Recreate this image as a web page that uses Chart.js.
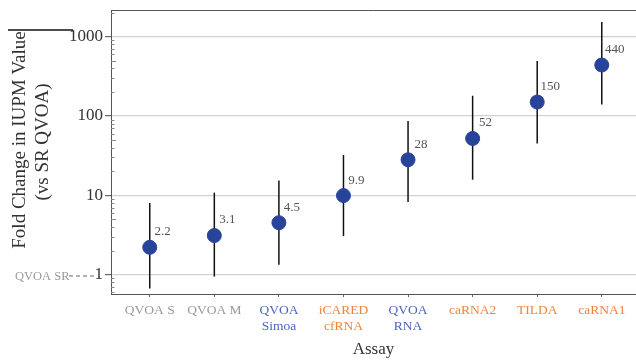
<!DOCTYPE html>
<html>
<head>
<meta charset="utf-8">
<script src="https://cdn.jsdelivr.net/npm/chart.js@4"></script>
<style>
  html, body { margin: 0; padding: 0; background: #fff; overflow: hidden; }
  canvas { display: block; }
</style>
</head>
<body>
<canvas id="chart" width="636" height="360"></canvas>
<script>
// assays, left to right
const assays = [['QVOA S'], ['QVOA M'], ['QVOA', 'Simoa'], ['iCARED', 'cfRNA'], ['QVOA', 'RNA'], ['caRNA2'], ['TILDA'], ['caRNA1']];
const assayGroup = ['grey', 'grey', 'blue', 'orange', 'blue', 'orange', 'orange', 'orange'];
// fold change vs SR QVOA, with lower / upper interval
const foldChange = [2.2, 3.1, 4.5, 9.9, 28, 52, 150, 440];
const lower = [0.665, 0.94, 1.33, 3.05, 8.2, 15.7, 45, 140];
const upper = [8.0, 10.8, 15.4, 32.2, 86.7, 180, 493, 1535];
const yTicks = [1, 10, 100, 1000];

const groupColors = { grey: '#9a9a9a', blue: '#4a66bd', orange: '#f0843c' };
const serif = "'Liberation Serif', 'DejaVu Serif', serif";

const errorBars = {
    id: 'errorBars',
    beforeDatasetsDraw(chart) {
        const { ctx, scales: { x, y } } = chart;
        ctx.save();
        ctx.strokeStyle = '#111';
        ctx.lineWidth = 1.5;
        foldChange.forEach((v, i) => {
            const px = x.getPixelForValue(i);
            ctx.beginPath();
            ctx.moveTo(px, y.getPixelForValue(lower[i]));
            ctx.lineTo(px, y.getPixelForValue(upper[i]));
            ctx.stroke();
        });
        ctx.restore();
    }
};

const valueLabels = {
    id: 'valueLabels',
    afterDatasetsDraw(chart) {
        const { ctx, scales: { x, y } } = chart;
        ctx.save();
        ctx.font = '13px ' + serif;
        ctx.fillStyle = '#555';
        ctx.textAlign = 'center';
        ctx.textBaseline = 'middle';
        foldChange.forEach((v, i) => {
            ctx.fillText(String(v), x.getPixelForValue(i) + 13, y.getPixelForValue(v) - 15.5);
        });
        ctx.restore();
    }
};

const extras = {
    id: 'extras',
    afterDraw(chart) {
        const { ctx, chartArea: a, scales: { y } } = chart;
        ctx.save();
        // top frame line
        ctx.strokeStyle = '#555';
        ctx.lineWidth = 1;
        ctx.beginPath();
        ctx.moveTo(a.left, a.top + 0.5);
        ctx.lineTo(a.right, a.top + 0.5);
        ctx.stroke();

        // minor ticks inside the left axis
        ctx.strokeStyle = '#888';
        for (let d = 0.1; d <= 1000; d *= 10) {
            for (let m = 2; m <= 9; m++) {
                const v = d * m;
                if (v < y.min || v > y.max) continue;
                const py = Math.round(y.getPixelForValue(v)) + 0.5;
                ctx.beginPath();
                ctx.moveTo(a.left, py);
                ctx.lineTo(a.left + (m === 5 ? 5 : 3.5), py);
                ctx.stroke();
            }
        }

        // y title (two lines, rotated)
        ctx.fillStyle = '#333';
        ctx.font = '19px ' + serif;
        ctx.textAlign = 'center';
        ctx.textBaseline = 'middle';
        ctx.translate(20, 140);
        ctx.rotate(-Math.PI / 2);
        ctx.fillText('Fold Change in IUPM Value', 0, 0);
        ctx.fillText('(vs SR QVOA)', -2, 23);
        ctx.setTransform(1, 0, 0, 1, 0, 0);

        // stray rule over the title
        ctx.strokeStyle = '#111';
        ctx.lineWidth = 1.5;
        ctx.beginPath();
        ctx.moveTo(8, 30);
        ctx.lineTo(73, 30);
        ctx.stroke();

        // reference marker at 1
        const p1 = y.getPixelForValue(1);
        ctx.font = '12.5px ' + serif;
        ctx.fillStyle = '#9a9a9a';
        ctx.textAlign = 'left';
        ctx.fillText('QVOA SR', 15, p1 + 2);
        ctx.strokeStyle = '#666';
        ctx.lineWidth = 1;
        ctx.setLineDash([4, 3]);
        ctx.beginPath();
        ctx.moveTo(69, p1 + 1.5);
        ctx.lineTo(94, p1 + 1.5);
        ctx.stroke();
        ctx.restore();
    }
};

const noPadding = (s) => {
    s.paddingLeft = 0;
    s.paddingRight = 0;
    s.paddingTop = 0;
    s.paddingBottom = 0;
};

new Chart(document.getElementById('chart'), {
    type: 'scatter',
    data: {
        datasets: [{
            data: foldChange.map((v, i) => ({ x: i, y: v })),
            backgroundColor: '#28439a',
            borderColor: '#28439a',
            pointRadius: 7,
            pointHoverRadius: 7
        }]
    },
    options: {
        responsive: false,
        animation: false,
        layout: { autoPadding: false, padding: { top: 10, right: 0, left: 0, bottom: 0 } },
        plugins: { legend: { display: false }, tooltip: { enabled: false } },
        scales: {
            x: {
                type: 'linear',
                min: -0.6,
                max: 7.53,
                afterBuildTicks: (s) => { s.ticks = assays.map((_, i) => ({ value: i })); },
                afterFit: (s) => { s.height = 66; noPadding(s); },
                ticks: {
                    autoSkip: false,
                    maxRotation: 0,
                    padding: 5,
                    font: { family: serif, size: 13.5, lineHeight: 1.2 },
                    color: (c) => groupColors[assayGroup[c.index]] || '#999',
                    callback: (v, i) => assays[i]
                },
                grid: { drawOnChartArea: false, tickLength: 3, tickColor: '#666' },
                border: { color: '#555' },
                title: {
                    display: true,
                    text: 'Assay',
                    color: '#333',
                    font: { family: serif, size: 17 },
                    padding: { top: 0, bottom: 0 }
                }
            },
            y: {
                type: 'logarithmic',
                min: 0.567,
                max: 2176,
                afterBuildTicks: (s) => { s.ticks = yTicks.map((v) => ({ value: v })); },
                afterFit: (s) => { s.width = 111; noPadding(s); },
                ticks: {
                    padding: 2,
                    color: '#333',
                    font: { family: serif, size: 17 },
                    callback: (v) => String(v)
                },
                grid: { color: '#d2d2d2', lineWidth: 1.2, tickLength: 6, tickColor: '#666' },
                border: { color: '#555' }
            }
        }
    },
    plugins: [errorBars, valueLabels, extras]
});
</script>
</body>
</html>
